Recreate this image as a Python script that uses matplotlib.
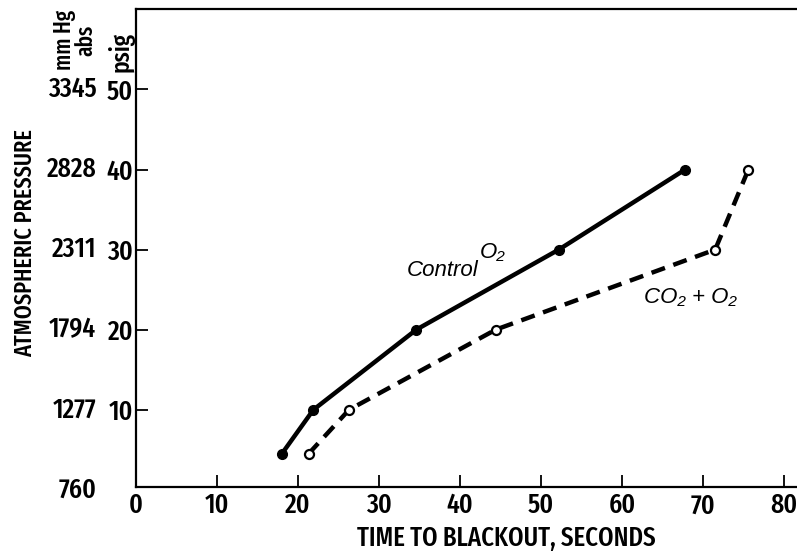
import matplotlib
matplotlib.use("Agg")
import matplotlib.pyplot as plt
from matplotlib import font_manager as fm
from matplotlib.textpath import TextPath

# ----------------------------------
# DATA
# ----------------------------------

control_time = [18.0, 21.9, 34.6, 52.2, 67.8]
control_psig = [4.5, 10, 20, 30, 40]

co2_time = [21.3, 26.3, 44.4, 71.5, 75.6]
co2_psig = [4.5, 10, 20, 30, 40]

psig_ticks = [10, 20, 30, 40, 50]
mmhg_ticks = [0, 10, 20, 30, 40, 50]
mmhg_labels = ["760", "1277", "1794", "2311", "2828", "3345"]
x_ticks = [0, 10, 20, 30, 40, 50, 60, 70, 80]

# ----------------------------------
# FONT (narrow face, medium weight if there is one)
# ----------------------------------

skip = ["bold", "italic", "oblique", "semi", "light", "mono", "thin",
        "black", "heavy"]


def find_face(key, want_medium):
    for f in fm.fontManager.ttflist:
        n = (f.fname.split("/")[-1] + " " + f.name).lower().replace(" ", "")
        if key not in n or any(k in n for k in skip):
            continue
        if ("medium" in n) == want_medium:
            return f.fname
    return None


cond_file = None
for key in ["extracondensed", "narrow", "condensed"]:
    cond_file = find_face(key, True) or find_face(key, False)
    if cond_file:
        break

if cond_file:
    cond = fm.FontProperties(fname=cond_file)
else:
    cond = fm.FontProperties(family="DejaVu Sans", stretch="condensed")


def cf(size):
    p = cond.copy()
    p.set_size(size)
    return p


ital = ["Liberation Sans", "DejaVu Sans"]

fig = plt.figure(figsize=(7.97, 5.54), dpi=100)
ax = fig.add_axes([0.1706, 0.1215, 0.8294, 0.8617])
renderer = fig.canvas.get_renderer()

# cap height of the face, as a share of the font size
cap_ratio = TextPath((0, 0), "H", prop=cf(10)).get_extents().height / 10


def fit(s, target_w, cap_px=None):
    # size from the width seen in the reference, balanced with letter height
    t = fig.text(0, 0, s, fontproperties=cf(10))
    w = t.get_window_extent(renderer).width
    t.remove()
    size_w = 10 * target_w / w
    if cap_px is None:
        return size_w
    size_h = cap_px / (cap_ratio * 100 / 72)
    return (size_w * size_h) ** 0.5


tick_size = fit("2828", 45, 21)
xlab_size = fit("TIME TO BLACKOUT, SECONDS", 292, 19)
ylab_size = fit("ATMOSPHERIC PRESSURE", 229)
mm_size = fit("mm Hg", 60)
psig_size = fit("psig", 40)

# ----------------------------------
# PLOT
# ----------------------------------

ax.plot(
    control_time,
    control_psig,
    color="black",
    lw=3.2,
    marker="o",
    ms=7,
    mfc="black",
    mec="black",
    solid_capstyle="round",
)

ax.plot(
    co2_time,
    co2_psig,
    color="black",
    lw=3.2,
    ls=(0, (3.2, 2.0)),
    marker="o",
    ms=6.5,
    mfc="white",
    mec="black",
    mew=1.6,
)

ax.set_xlim(0, 81.6)
ax.set_ylim(0.4, 60)

ax.spines["right"].set_visible(False)
for s in ["left", "bottom", "top"]:
    ax.spines[s].set_linewidth(1.6)

ax.set_xticks(x_ticks)
ax.set_xticklabels([str(t) for t in x_ticks], fontproperties=cf(tick_size))
ax.set_yticks(psig_ticks)
ax.set_yticklabels([str(t) for t in psig_ticks], fontproperties=cf(tick_size))
ax.tick_params(
    axis="both",
    direction="in",
    length=8.5,
    width=1.3,
)
ax.tick_params(axis="x", pad=4)
ax.tick_params(axis="y", pad=2)

# mmHg abs column
ytrans = ax.get_yaxis_transform()
for v, lab in zip(mmhg_ticks, mmhg_labels):
    ax.text(-0.06, v, lab, transform=ytrans, ha="right", va="center",
            fontproperties=cf(tick_size))

# column headers
fig.text(75 / 797, 1 - 40 / 554, "mm Hg\nabs", rotation=90, ha="center",
         va="center", fontproperties=cf(mm_size), linespacing=0.85)
fig.text(121 / 797, 1 - 52 / 554, "psig", rotation=90, ha="center",
         va="center", fontproperties=cf(psig_size))

fig.text(25 / 797, 1 - 243 / 554, "ATMOSPHERIC PRESSURE", rotation=90,
         ha="center", va="center", fontproperties=cf(ylab_size))
fig.text(506 / 797, 1 - 538 / 554, "TIME TO BLACKOUT, SECONDS",
         ha="center", va="center", fontproperties=cf(xlab_size))

# series labels
ax.text(37.9, 27.4, "Control", style="italic", fontsize=16, family=ital,
        ha="center", va="center")
ax.text(44.0, 29.7, "O\u2082", style="italic", fontsize=16, family=ital,
        ha="center", va="center")
ax.text(68.4, 24.0, "CO\u2082 + O\u2082", style="italic", fontsize=16,
        family=ital, ha="center", va="center")

fig.savefig("out.png", dpi=100)
